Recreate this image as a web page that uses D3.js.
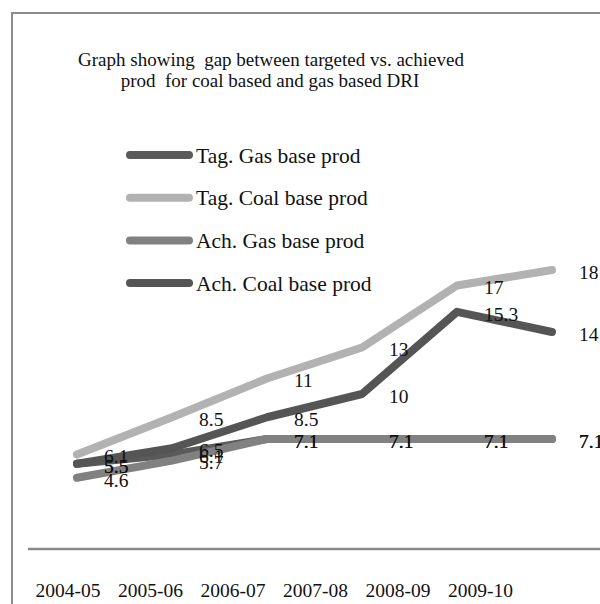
<!DOCTYPE html>
<html>
<head>
    <title>DRI prod gap</title>
    <script src="https://cdn.jsdelivr.net/npm/d3@7"></script>
    <style>
        body { margin: 0; background: #fff; }
        text { font-family: "Liberation Serif", "Times New Roman", serif; fill: #111; }
    </style>
</head>
<body>
    <svg width="600" height="604" id="mainsvg"></svg>
    <script>
        // data
        const years = ['2004-05', '2005-06', '2006-07', '2007-08', '2008-09', '2009-10'];
        const seriesNames = ['Tag. Gas base prod', 'Tag. Coal base prod', 'Ach. Gas base prod', 'Ach. Coal base prod'];
        const tagGas = [5.5, 6.1, 7.1, 7.1, 7.1, 7.1];
        const tagCoal = [6.1, 8.5, 11, 13, 17, 18];
        const achGas = [4.6, 5.7, 7.1, 7.1, 7.1, 7.1];
        const achCoal = [5.5, 6.5, 8.5, 10, 15.3, 14];
        const colors = ['#5a5a5a', '#b2b2b2', '#818181', '#555555'];

        const svg = d3.select('svg');
        const width = +svg.attr('width');

        // outer frame (cut off on right/bottom)
        svg.append('rect').attr('x', 12).attr('y', 13)
            .attr('width', 640).attr('height', 640)
            .attr('fill', 'none').attr('stroke', '#8c8c8c').attr('stroke-width', 2);

        // title
        const title = svg.append('text').attr('text-anchor', 'middle').attr('font-size', 19)
            .attr('xml:space', 'preserve');
        title.append('tspan').attr('x', 271).attr('y', 66).text('Graph showing  gap between targeted vs. achieved');
        title.append('tspan').attr('x', 270).attr('y', 87).text('prod  for coal based and gas based DRI');

        const x = d3.scalePoint().domain(years).range([77, 552]);
        const y = d3.scaleLinear().domain([0, 18]).range([549, 270]);
        // category labels sit on their own spacing in the original
        const xLab = d3.scalePoint().domain(years).range([67.5, 480]);

        // axis
        const axis = svg.append('g').attr('transform', 'translate(0,549)')
            .call(d3.axisBottom(xLab).tickSize(0).tickPadding(34));
        axis.select('.domain').remove();
        axis.selectAll('text').attr('font-size', 19.5).attr('fill', '#111')
            .attr('font-family', '"Liberation Serif", serif');
        svg.append('line').attr('x1', 28).attr('x2', width).attr('y1', 549).attr('y2', 549)
            .attr('stroke', '#8a8a8a').attr('stroke-width', 2.5);

        const all = [tagGas, tagCoal, achGas, achCoal];
        const line = d3.line().x((d, i) => x(years[i])).y(d => y(d));

        all.forEach((vals, k) => {
            svg.append('path').datum(vals)
                .attr('d', line)
                .attr('fill', 'none')
                .attr('stroke', colors[k])
                .attr('stroke-width', 8)
                .attr('stroke-linecap', 'round')
                .attr('stroke-linejoin', 'round');
        });

        // data labels, right of each point
        all.forEach(vals => {
            svg.append('g').selectAll('text').data(vals).join('text')
                .attr('x', (d, i) => x(years[i]) + 27)
                .attr('y', d => y(d) + 2)
                .attr('dy', '0.35em')
                .attr('font-size', 19.5)
                .text(d => d);
        });

        // legend
        const legend = svg.append('g');
        seriesNames.forEach((name, k) => {
            const ly = 155 + k * 42.7;
            legend.append('line').attr('x1', 130).attr('x2', 189).attr('y1', ly).attr('y2', ly)
                .attr('stroke', colors[k]).attr('stroke-width', 8).attr('stroke-linecap', 'round');
            legend.append('text').attr('x', 196).attr('y', ly).attr('dy', '0.35em')
                .attr('font-size', 21.5).text(name);
        });
    </script>
</body>
</html>
